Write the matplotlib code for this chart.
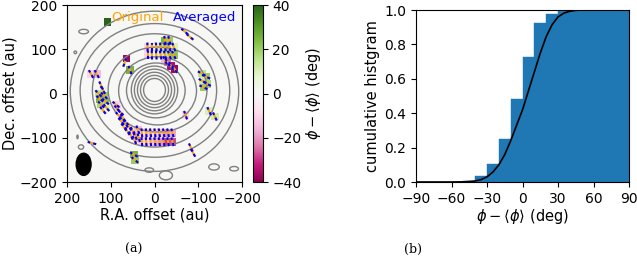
import numpy as np
import matplotlib.pyplot as plt
from matplotlib.patches import Ellipse

# ---------------- panel (a): polarisation vectors ----------------
# vector centre (au), screen angle (deg, ccw from right), phi - <phi> (deg)
vec_x = [16, 6, -4, -14, -24, -34, -44,
         16, 6, -4, -14, -24, -34, -44,
         -24, -34,
         -24, -30, -38, -46,
         -69, -81,
         68, 56,
         145, 132,
         122, 118, 128, 115, 125, 112, 122, 110, 118,
         88, 85, 78, 82, 72, 76, 66, 70, 58, 62, 50, 54, 44, 46, 38, 36,
         29, 19, 9, -1, -11, -21, -31, -41,
         29, 19, 9, -1, -11, -21, -31, -41,
         -108, -118, -110, -120, -112,
         -71, -125, -138,
         -83, -88,
         47, 45,
         143]
vec_y = [105, 105, 105, 105, 105, 105, 105,
         87, 87, 87, 87, 87, 87, 87,
         120, 120,
         75, 70, 62, 55,
         140, 128,
         70, 53,
         44, 44,
         18, 8, 0, -5, -12, -18, -25, -32, -38,
         -25, -35, -42, -50, -55, -63, -68, -76, -75, -85, -85, -95, -95, -105, -82, -100,
         -89, -89, -89, -89, -89, -89, -89, -89,
         -109, -109, -109, -109, -109, -109, -109, -109,
         45, 38, 28, 22, 14,
         -49, -40, -52,
         -122, -134,
         -138, -150,
         -112]
vec_ang = [92, 90, 95, 98, 100, 105, 110,
           90, 92, 95, 100, 105, 110, 115,
           100, 105,
           115, 120, 120, 125,
           140, 140,
           70, 110,
           120, 120,
           115, 120, 135, 135, 140, 140, 135, 130, 130,
           140, 130, 135, 130, 125, 130, 120, 125, 120, 120, 115, 115, 110, 115, 110, 105,
           95, 95, 97, 97, 98, 100, 102, 105,
           95, 95, 97, 97, 98, 100, 102, 105,
           150, 155, 150, 150, 155,
           110, 115, 115,
           115, 120,
           150, 140,
           165]
vec_dphi = [-10, -8, 5, 10, 15, 20, 10,
            -10, -5, 3, 8, 12, 15, 22,
            25, 20,
            -15, -25, -35, -38,
            0, 0,
            0, 25,
            -10, -15,
            0, 5, 15, 20, 25, 22, 18, 10, 5,
            -10, -12, -5, 0, -3, 0, 5, 0, -5, 0, -8, -5, -10, 0, -15, -18,
            -8, -10, -12, -10, -12, -15, -20, -18,
            -10, -12, -10, -15, -18, -20, -30, -28,
            15, 20, 12, 18, 20,
            -10, 10, 12,
            0, 0,
            25, 20,
            0]

# isolated map pixels without a vector
dot_x = [107, 64]
dot_y = [161, 79]
dot_v = [40, -38]

# intensity contours approximated by ellipses (centre, full width, full height)
ring_cx = [0, 0, 0, 0, 0, -3, -7, -7, 0, -1, 0]
ring_cy = [8, 8, 8, 8, 8, 7, 6, 9, 7, 7, 5]
ring_w = [50, 64, 78, 92, 106, 134, 178, 226, 284, 342, 385]
ring_h = [52, 66, 80, 94, 108, 124, 154, 192, 256, 302, 362]
blob_x = [162, 181, 168, 176, -182, -136, -26, 12]
blob_y = [140, 93, -121, -98, -170, -166, -185, -173]
blob_w = [22, 6, 12, 3, 20, 24, 30, 20]
blob_h = [10, 6, 10, 8, 10, 14, 20, 10]

beam_x, beam_y, beam_w, beam_h = 162, -160, 34, 50

# ---------------- panel (b): cumulative histogram ----------------
bin_left = [-90, -80, -70, -60, -50, -40, -30, -20, -10, 0, 10, 20, 30, 40, 50, 60, 70, 80]
cum_frac = [0, 0, 0, 0, 0.005, 0.035, 0.105, 0.25, 0.484, 0.729, 0.922, 0.977,
            1.0, 1.0, 1.0, 1.0, 1.0, 1.0]
curve_x = [-90, -60, -50, -45, -40, -35, -30, -25, -20, -15, -10, -5, 0, 5, 10,
           15, 20, 25, 30, 35, 40, 45, 50, 60, 90]
curve_y = [0, 0, 0.001, 0.003, 0.006, 0.014, 0.03, 0.058, 0.10, 0.16, 0.24, 0.33, 0.42,
           0.53, 0.64, 0.75, 0.845, 0.915, 0.96, 0.982, 0.993, 0.998, 1.0, 1.0, 1.0]

plt.rcParams['font.size'] = 10
plt.rcParams['xtick.labelsize'] = 10
plt.rcParams['ytick.labelsize'] = 10

fig = plt.figure(figsize=(6.37, 2.62), dpi=100)

ax = fig.add_axes([0.1052, 0.3053, 0.2747, 0.6756])
cax = fig.add_axes([0.3976, 0.3053, 0.0148, 0.6756])
axh = fig.add_axes([0.6531, 0.3053, 0.3344, 0.6565])

cmap = plt.get_cmap('PiYG')
ax.set_facecolor(cmap(0.5))

sc = ax.scatter(vec_x + dot_x, vec_y + dot_y, c=vec_dphi + dot_v, cmap=cmap,
                vmin=-40, vmax=40, marker='s', s=30, linewidths=0, zorder=1)

for cx, cy, w, h in zip(ring_cx, ring_cy, ring_w, ring_h):
    ax.add_patch(Ellipse((cx, cy), w, h, fill=False, edgecolor='gray', lw=1.0, zorder=2))
for cx, cy, w, h in zip(blob_x, blob_y, blob_w, blob_h):
    ax.add_patch(Ellipse((cx, cy), w, h, fill=False, edgecolor='gray', lw=1.0, zorder=2))

half = 10.0
for x, y, a in zip(vec_x, vec_y, vec_ang):
    dx = -half * np.cos(np.radians(a))  # x axis is reversed
    dy = half * np.sin(np.radians(a))
    ax.plot([x - dx, x + dx], [y - dy, y + dy], color='orange', lw=1.5,
            solid_capstyle='butt', zorder=3)
    ax.plot([x - dx, x + dx], [y - dy, y + dy], color='blue', lw=1.5,
            ls=(0, (1.5, 1.5)), dash_capstyle='butt', zorder=4)

ax.add_patch(Ellipse((beam_x, beam_y), beam_w, beam_h, color='black', zorder=5))

ax.text(98, 171, 'Original', color='orange', fontsize=9.5, va='center', ha='left', zorder=6)
ax.text(-42, 171, 'Averaged', color='blue', fontsize=9.5, va='center', ha='left', zorder=6)

ax.set_xlim(200, -200)
ax.set_ylim(-200, 200)
ax.set_xticks([200, 100, 0, -100, -200])
ax.set_yticks([-200, -100, 0, 100, 200])
ax.set_xlabel('R.A. offset (au)', fontsize=10.5, labelpad=1)
ax.set_ylabel('Dec. offset (au)', fontsize=10.5, labelpad=1)

cb = fig.colorbar(sc, cax=cax)
cb.set_ticks([-40, -20, 0, 20, 40])
cb.set_label(r'$\phi - \langle\phi\rangle$ (deg)', fontsize=10.5, labelpad=2)
cb.outline.set_linewidth(0.8)

axh.bar(bin_left, cum_frac, width=10, align='edge', color='#1f77b4',
        edgecolor='#1f77b4', lw=0.3)
axh.plot(curve_x, curve_y, color='black', lw=1.2)
axh.set_xlim(-90, 90)
axh.set_ylim(0, 1)
axh.set_xticks([-90, -60, -30, 0, 30, 60, 90])
axh.set_yticks([0, 0.2, 0.4, 0.6, 0.8, 1.0])
axh.set_xlabel(r'$\phi - \langle\phi\rangle$ (deg)', fontsize=10.5, labelpad=1)
axh.set_ylabel('cumulative histgram', fontsize=10.5, labelpad=3)

fig.text(0.2104, 0.035, '(a)', family='DejaVu Serif', fontsize=9, ha='center')
fig.text(0.6484, 0.035, '(b)', family='DejaVu Serif', fontsize=9, ha='center')

fig.savefig('out.png', dpi=100)
